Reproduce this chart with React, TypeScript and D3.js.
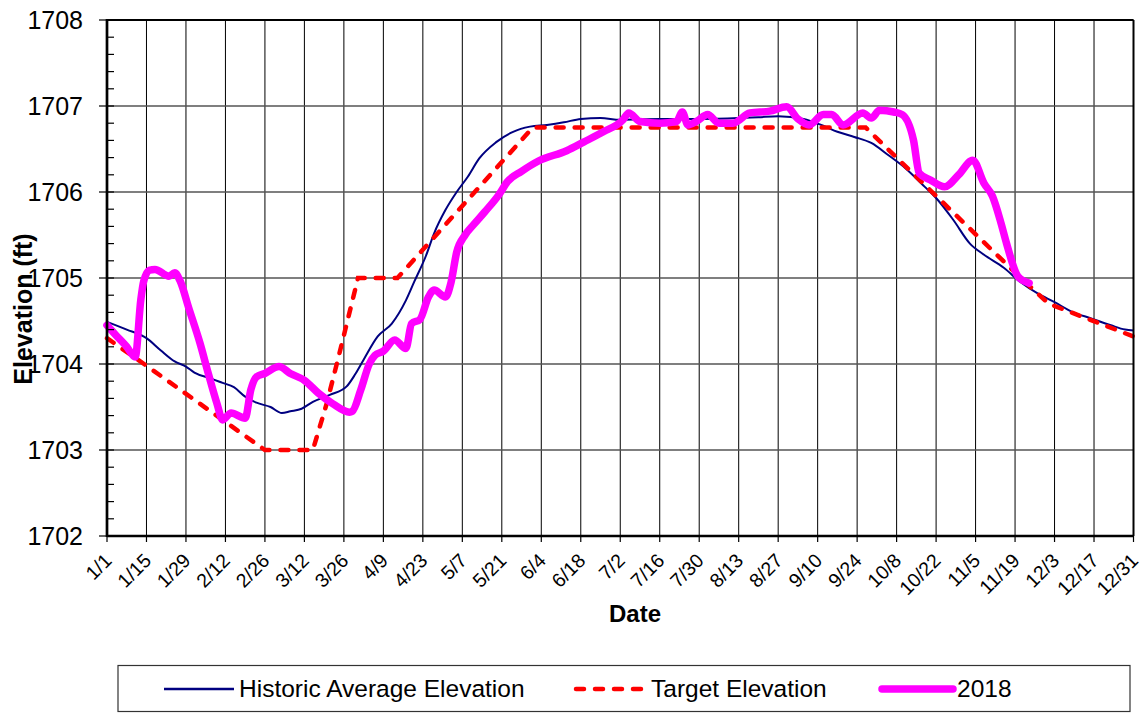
import React from 'react'
import * as d3 from 'd3'

// tick labels along the date axis (every 14 days)
const dateTicks = ['1/1', '1/15', '1/29', '2/12', '2/26', '3/12', '3/26', '4/9', '4/23', '5/7', '5/21', '6/4', '6/18',
  '7/2', '7/16', '7/30', '8/13', '8/27', '9/10', '9/24', '10/8', '10/22', '11/5', '11/19', '12/3', '12/17', '12/31']
const elevTicks = [1702, 1703, 1704, 1705, 1706, 1707, 1708]

// Historic Average Elevation
const historic: [string, number][] = [
  ['1/1', 1704.49], ['1/8', 1704.40], ['1/15', 1704.30], ['1/20', 1704.16], ['1/25', 1704.03], ['1/29', 1703.97],
  ['2/1', 1703.90], ['2/7', 1703.83], ['2/11', 1703.78], ['2/15', 1703.73], ['2/19', 1703.62], ['2/23', 1703.55],
  ['2/28', 1703.50], ['3/4', 1703.43], ['3/7', 1703.45], ['3/11', 1703.48], ['3/15', 1703.56], ['3/21', 1703.64],
  ['3/27', 1703.74], ['3/30', 1703.88], ['4/2', 1704.05], ['4/7', 1704.32], ['4/12', 1704.47], ['4/17', 1704.74],
  ['4/20', 1704.96], ['4/24', 1705.25], ['4/27', 1705.52], ['5/1', 1705.79], ['5/5', 1706.00], ['5/9', 1706.18],
  ['5/13', 1706.39], ['5/19', 1706.58], ['5/25', 1706.70], ['5/31', 1706.76], ['6/6', 1706.78], ['6/12', 1706.81],
  ['6/18', 1706.85], ['6/25', 1706.86], ['7/2', 1706.84], ['7/16', 1706.85], ['7/30', 1706.85], ['8/13', 1706.86],
  ['8/20', 1706.87], ['8/27', 1706.88], ['9/5', 1706.85], ['9/12', 1706.77], ['9/17', 1706.70], ['9/23', 1706.64],
  ['9/29', 1706.57], ['10/5', 1706.43], ['10/11', 1706.28], ['10/18', 1706.06], ['10/22', 1705.93], ['10/28', 1705.68],
  ['11/3', 1705.40], ['11/8', 1705.27], ['11/15', 1705.12], ['11/21', 1704.95], ['11/27', 1704.82], ['12/3', 1704.72],
  ['12/9', 1704.61], ['12/16', 1704.53], ['12/23', 1704.45], ['12/28', 1704.40], ['12/31', 1704.39],
]

// Target Elevation
const target: [string, number][] = [
  ['1/1', 1704.30], ['1/15', 1703.98], ['2/26', 1703.00], ['3/15', 1703.00], ['3/20', 1703.55], ['3/25', 1704.20],
  ['3/31', 1705.00], ['4/14', 1705.00], ['6/1', 1706.75], ['9/27', 1706.75], ['11/21', 1705.00], ['12/1', 1704.70],
  ['12/31', 1704.32],
]

// 2018
const y2018: [string, number][] = [
  ['1/1', 1704.45], ['1/4', 1704.34], ['1/8', 1704.20], ['1/11', 1704.08], ['1/13', 1704.75], ['1/14', 1704.96],
  ['1/16', 1705.09], ['1/18', 1705.10], ['1/23', 1705.02], ['1/25', 1705.06], ['1/27', 1704.96], ['1/30', 1704.65],
  ['2/3', 1704.24], ['2/6', 1703.88], ['2/9', 1703.54], ['2/11', 1703.35], ['2/14', 1703.43], ['2/19', 1703.37],
  ['2/21', 1703.70], ['2/23', 1703.85], ['2/26', 1703.89], ['3/3', 1703.97], ['3/7', 1703.89], ['3/12', 1703.81],
  ['3/17', 1703.66], ['3/22', 1703.54], ['3/28', 1703.44], ['3/29', 1703.45], ['4/1', 1703.70], ['4/4', 1704.00],
  ['4/6', 1704.10], ['4/9', 1704.15], ['4/13', 1704.28], ['4/17', 1704.18], ['4/19', 1704.47], ['4/22', 1704.52],
  ['4/25', 1704.78], ['4/27', 1704.86], ['5/1', 1704.78], ['5/3', 1704.95], ['5/5', 1705.30], ['5/8', 1705.50],
  ['5/11', 1705.62], ['5/15', 1705.77], ['5/20', 1705.97], ['5/23', 1706.12], ['5/28', 1706.24], ['6/3', 1706.36],
  ['6/13', 1706.48], ['6/19', 1706.58], ['6/26', 1706.70], ['7/3', 1706.84], ['7/5', 1706.92], ['7/9', 1706.82],
  ['7/16', 1706.80], ['7/22', 1706.82], ['7/24', 1706.93], ['7/26', 1706.78], ['7/29', 1706.82], ['8/2', 1706.90],
  ['8/6', 1706.80], ['8/11', 1706.80], ['8/17', 1706.92], ['8/24', 1706.94], ['8/30', 1706.99], ['9/3', 1706.85],
  ['9/7', 1706.78], ['9/12', 1706.90], ['9/15', 1706.90], ['9/19', 1706.78], ['9/26', 1706.92], ['9/29', 1706.86],
  ['10/2', 1706.95], ['10/7', 1706.93], ['10/10', 1706.90], ['10/14', 1706.60], ['10/16', 1706.22], ['10/20', 1706.14],
  ['10/25', 1706.06], ['10/30', 1706.20], ['11/4', 1706.37], ['11/8', 1706.10], ['11/11', 1705.95], ['11/14', 1705.64],
  ['11/16', 1705.40], ['11/20', 1705.02], ['11/24', 1704.94],
]

const parseDay = d3.timeParse('%m/%d/%Y')
const toDate = (s: string) => parseDay(s + '/2018') as Date

const font = '"Liberation Sans", Arial, sans-serif'

export default function App() {
  const width = 1142
  const height = 713
  const marginLeft = 107
  const marginRight = 8.5
  const marginTop = 20
  const marginBottom = 177

  const x = d3.scaleTime()
    .domain([toDate('1/1'), toDate('12/31')])
    .range([marginLeft, width - marginRight])
  const y = d3.scaleLinear()
    .domain([1702, 1708])
    .range([height - marginBottom, marginTop])

  const line = d3.line<[string, number]>()
    .x(d => x(toDate(d[0])))
    .y(d => y(d[1]))
  const smooth = d3.line<[string, number]>()
    .x(d => x(toDate(d[0])))
    .y(d => y(d[1]))
    .curve(d3.curveMonotoneX)

  const minorTicks = d3.range(1702, 1708.001, 0.2)
  const x0 = marginLeft, x1 = width - marginRight
  const y0 = marginTop, y1 = height - marginBottom

  return (
    <svg width={width} height={height} style={{ position: 'absolute', left: 0, top: 0, background: 'white' }}>
      {/* grid */}
      <g stroke="#000" strokeWidth="1">
        {dateTicks.map(t => (
          <line key={t} x1={x(toDate(t))} x2={x(toDate(t))} y1={y0} y2={y1} />
        ))}
      </g>
      <g stroke="#555" strokeWidth="1.4">
        {elevTicks.map(v => (
          <line key={v} x1={x0} x2={x1} y1={y(v)} y2={y(v)} />
        ))}
      </g>

      {/* series */}
      <path d={smooth(historic) ?? ''} fill="none" stroke="#000080" strokeWidth="2" />
      <path d={line(target) ?? ''} fill="none" stroke="#ff0000" strokeWidth="4.5" strokeDasharray="8,11" strokeLinecap="round" />
      <path d={smooth(y2018) ?? ''} fill="none" stroke="#ff00ff" strokeWidth="7.5" strokeLinejoin="round" strokeLinecap="round" />

      {/* frame */}
      <line x1={x0} x2={x1} y1={y0} y2={y0} stroke="#000" strokeWidth="2" />
      <line x1={x1} x2={x1} y1={y0} y2={y1} stroke="#000" strokeWidth="2" />
      <line x1={x0} x2={x0} y1={y0 - 1} y2={y1 + 1} stroke="#000" strokeWidth="2.7" />
      <line x1={x0} x2={x1} y1={y1} y2={y1} stroke="#000" strokeWidth="2.5" />

      {/* y axis ticks */}
      <g stroke="#000" strokeWidth="1.2">
        {elevTicks.map(v => (
          <line key={v} x1={x0 - 8} x2={x0} y1={y(v)} y2={y(v)} />
        ))}
        {minorTicks.map((v, i) => (
          <line key={i} x1={x0} x2={x0 + 7} y1={y(v)} y2={y(v)} />
        ))}
      </g>
      <g fontFamily={font} fontSize="25" textAnchor="end">
        {elevTicks.map(v => (
          <text key={v} x={83} y={y(v)} dy="0.36em">{v}</text>
        ))}
      </g>

      {/* x axis ticks */}
      <g stroke="#000" strokeWidth="1.2">
        {dateTicks.map(t => (
          <line key={t} x1={x(toDate(t))} x2={x(toDate(t))} y1={y1} y2={y1 + 6} />
        ))}
      </g>
      <g fontFamily={font} fontSize="19.5" textAnchor="end">
        {dateTicks.map(t => (
          <text key={t} transform={`translate(${x(toDate(t)) + 1},${y1 + 21}) rotate(-45)`} dy="0.35em">{t}</text>
        ))}
      </g>

      {/* axis titles */}
      <text x={635} y={622} fontFamily={font} fontSize="24" fontWeight="bold" textAnchor="middle">Date</text>
      <text transform="translate(32,309) rotate(-90)" fontFamily={font} fontSize="25" fontWeight="bold" textAnchor="middle">Elevation (ft)</text>

      {/* legend */}
      <rect x={118} y={665.5} width={1012} height={46} fill="none" stroke="#333" strokeWidth="1.2" />
      <line x1={164} x2={234} y1={689} y2={689} stroke="#000080" strokeWidth="2.5" />
      <text x={239} y={697} fontFamily={font} fontSize="24.5">Historic Average Elevation</text>
      <line x1={576} x2={646} y1={689} y2={689} stroke="#ff0000" strokeWidth="4.5" strokeDasharray="8,11" strokeLinecap="round" />
      <text x={651} y={697} fontFamily={font} fontSize="24.5">Target Elevation</text>
      <line x1={882} x2={953} y1={689} y2={689} stroke="#ff00ff" strokeWidth="7.5" strokeLinecap="round" />
      <text x={957} y={697} fontFamily={font} fontSize="24.5">2018</text>
    </svg>
  )
}
